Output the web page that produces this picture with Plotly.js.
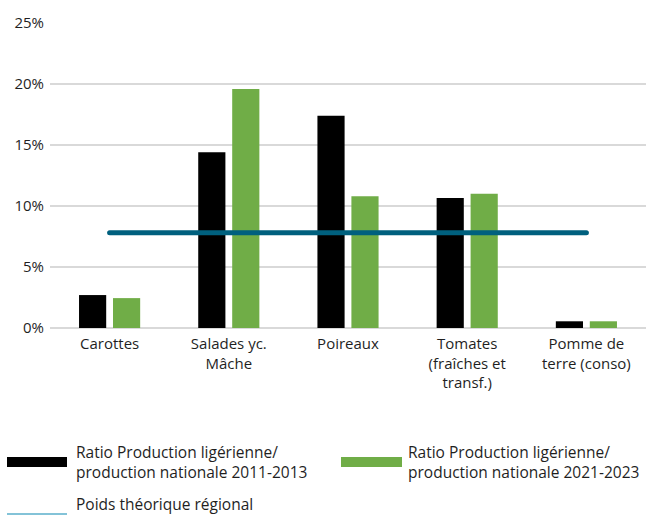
<!DOCTYPE html>
<html>
<head>
<meta charset="utf-8">
<script src="https://cdn.plot.ly/plotly-3.0.1.min.js"></script>
<style>
html,body{margin:0;padding:0;background:#fff;}
#chart{width:646px;height:515px;}
</style>
</head>
<body>
<div id="chart"></div>
<script>
// ---- Data ----
const categories = ["Carottes", "Salades yc.<br>Mâche", "Poireaux", "Tomates<br>(fraîches et<br>transf.)", "Pomme de<br>terre (conso)"];
const ratio2011_2013 = [2.7, 14.4, 17.4, 10.65, 0.55];
const ratio2021_2023 = [2.45, 19.6, 10.8, 11.0, 0.55];
const poidsTheorique = [7.8, 7.8, 7.8, 7.8, 7.8];
const seriesNames = [
  "Ratio Production ligérienne/<br>production nationale 2011-2013",
  "Ratio Production ligérienne/<br>production nationale 2021-2023",
  "Poids théorique régional"
];
const yTicks = [0, 5, 10, 15, 20, 25];
const yTickLabels = ["0%", "5%", "10%", "15%", "20%", "25%"];

// ---- Styles ----
const FONT = "Open Sans, Noto Sans, sans-serif";
const TXT = "#1f1f1f";
const BLACK = "#000000";
const GREEN = "#70AD47";
const TEAL = "#00607E";
const LEG_LINE = "#5AAFCB";

// plot-area geometry (pixels) for legend placement
const L = 50, T = 23, W = 596, H = 305;
const px = x => (x - L) / W;
const py = y => (T + H - y) / H;

const traces = [
  {type: "bar", x: categories, y: ratio2011_2013, name: seriesNames[0],
   marker: {color: BLACK}, showlegend: false},
  {type: "bar", x: categories, y: ratio2021_2023, name: seriesNames[1],
   marker: {color: GREEN}, showlegend: false},
  {type: "scatter", mode: "lines", x: categories, y: poidsTheorique, name: seriesNames[2],
   line: {color: TEAL, width: 5}, showlegend: false}
];

const layout = {
  width: 646, height: 515,
  margin: {l: L, r: 0, t: T, b: 515 - T - H},
  paper_bgcolor: "#fff", plot_bgcolor: "#fff",
  font: {family: FONT, size: 15, color: TXT},
  barmode: "group",
  bargap: 0.43,
  bargroupgap: 0.2,
  showlegend: false,
  hovermode: false,
  xaxis: {
    type: "category",
    showgrid: false, zeroline: false, showline: false,
    ticks: "", ticklabelstandoff: 5,
    tickfont: {family: FONT, size: 15, color: TXT},
    fixedrange: true
  },
  yaxis: {
    range: [0, 25], tickmode: "array", tickvals: yTicks, ticktext: yTickLabels,
    showgrid: true, gridcolor: "#D9D9D9", gridwidth: 2,
    zeroline: true, zerolinecolor: "#D9D9D9", zerolinewidth: 2,
    showline: false, ticks: "", ticklabelstandoff: 5,
    tickfont: {family: FONT, size: 15, color: TXT},
    fixedrange: true
  },
  shapes: [
    {type: "rect", xref: "paper", yref: "paper", x0: px(7), x1: px(67), y0: py(467), y1: py(457),
     fillcolor: BLACK, line: {width: 0}},
    {type: "rect", xref: "paper", yref: "paper", x0: px(341), x1: px(402), y0: py(467), y1: py(457),
     fillcolor: GREEN, line: {width: 0}},
    {type: "line", xref: "paper", yref: "paper", x0: px(7), x1: px(67), y0: py(514), y1: py(514),
     line: {color: LEG_LINE, width: 1.5}}
  ],
  annotations: [
    {xref: "paper", yref: "paper", x: px(74), y: py(462), xanchor: "left", yanchor: "middle",
     align: "left", showarrow: false, text: seriesNames[0], font: {family: FONT, size: 15.5, color: TXT}},
    {xref: "paper", yref: "paper", x: px(406), y: py(462), xanchor: "left", yanchor: "middle",
     align: "left", showarrow: false, text: seriesNames[1], font: {family: FONT, size: 15.5, color: TXT}},
    {xref: "paper", yref: "paper", x: px(74), y: py(504), xanchor: "left", yanchor: "middle",
     align: "left", showarrow: false, text: seriesNames[2], font: {family: FONT, size: 15.5, color: TXT}}
  ]
};

Plotly.newPlot("chart", traces, layout, {displayModeBar: false, staticPlot: true}).then(gd => {
  gd.querySelectorAll(".scatterlayer path.js-line").forEach(p => p.style.strokeLinecap = "round");
});
</script>
</body>
</html>
